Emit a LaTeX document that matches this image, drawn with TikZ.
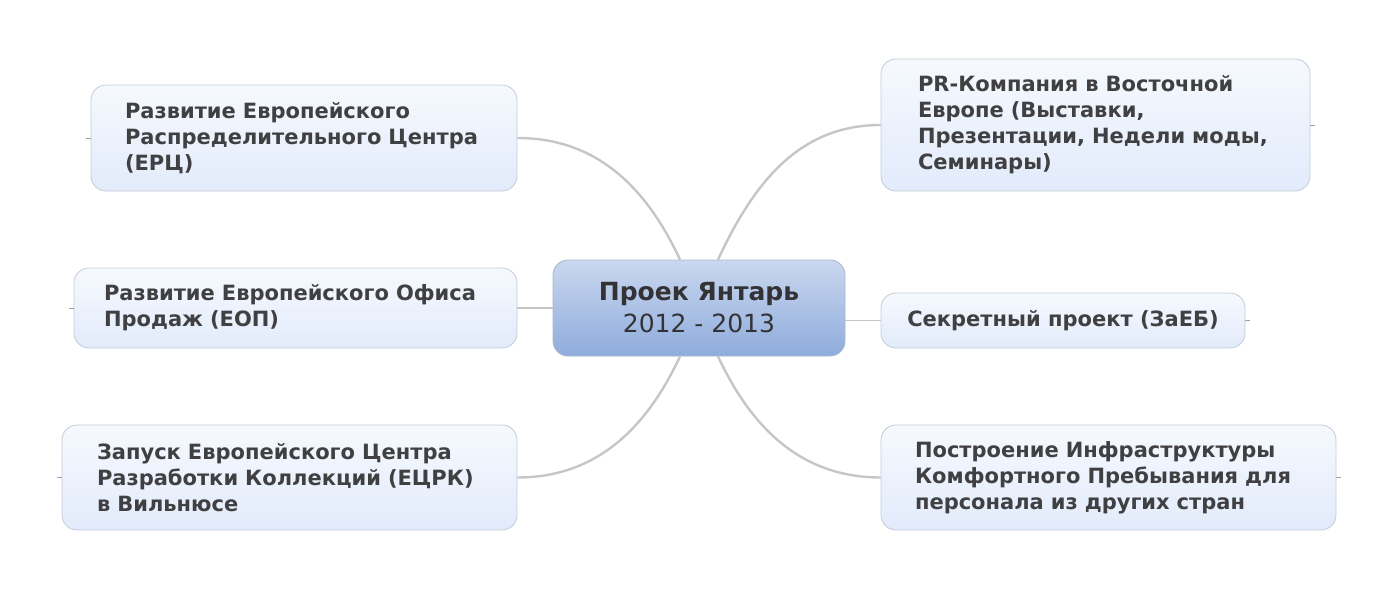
\documentclass[tikz,border=0pt]{standalone}
\usepackage{fontspec}
\setmainfont{DejaVu Sans}
\definecolor{topictop}{RGB}{246,249,254}
\definecolor{topicbot}{RGB}{226,235,251}
\definecolor{topicline}{RGB}{196,203,214}
\definecolor{hubtop}{RGB}{202,215,239}
\definecolor{hubbot}{RGB}{143,172,220}
\definecolor{hubline}{RGB}{168,183,208}
\definecolor{textgray}{RGB}{64,64,66}
\definecolor{branchgray}{RGB}{198,198,198}
\tikzset{
  topic/.style={draw=topicline, rounded corners=7.5pt, top color=topictop,
    bottom color=topicbot, align=left, inner xsep=17pt, text=textgray,
    font=\bfseries\fontsize{10.5}{13}\selectfont},
  hub/.style={draw=hubline, rounded corners=7.5pt, top color=hubtop,
    bottom color=hubbot, align=center, text=textgray!80!black,
    minimum width=146pt, minimum height=48pt,
    font=\fontsize{12.5}{16}\selectfont},
  branch/.style={draw=branchgray, line width=1.2pt},
  link/.style={draw=branchgray, line width=0.7pt},
  stub/.style={draw=branchgray!80!black, line width=0.5pt}
}
\begin{document}
\begin{tikzpicture}[x=0.5pt,y=-0.5pt]
  \useasboundingbox (0,0) rectangle (1398,589);
  % central topic
  \node[hub] (hub) at (699,308) {\textbf{Проек Янтарь}\\2012 - 2013};
  % left side
  \node[topic, text width=179pt, minimum height=53pt] (erc) at (304,138)
    {Развитие Европейского\\Распределительного Центра\\(ЕРЦ)};
  \node[topic, inner xsep=15pt, text width=191.5pt, minimum height=40pt] (eop) at (295.5,308)
    {Развитие Европейского Офиса\\Продаж (ЕОП)};
  \node[topic, inner xsep=17.5pt, text width=192.5pt, minimum height=52.5pt] (ecrk) at (289.5,477.5)
    {Запуск Европейского Центра\\Разработки Коллекций (ЕЦРК)\\в Вильнюсе};
  % right side
  \node[topic, inner xsep=18.5pt, text width=177.5pt, minimum height=66pt] (pr) at (1095.5,125)
    {PR-Компания в Восточной\\Европе (Выставки,\\Презентации, Недели моды,\\Семинары)};
  \node[topic, inner xsep=8pt, align=center, minimum width=182pt, minimum height=27.5pt] (zaeb) at (1063,320.5)
    {Секретный проект (ЗаЕБ)};
  \node[topic, text width=193.5pt, minimum height=52.5pt] (infra) at (1108.5,477.5)
    {Построение Инфраструктуры\\Комфортного Пребывания для\\персонала из других стран};
  % connectors
  \draw[branch] ([xshift=-9.5pt]hub.north) to[out=115,in=0] (erc.east);
  \draw[branch] ([xshift=9.5pt]hub.north) to[out=65,in=180] (pr.west);
  \draw[link] (hub.west) -- (eop.east);
  \draw[link] (zaeb.west -| hub.east) -- (zaeb.west);
  \draw[branch] ([xshift=-9.5pt]hub.south) to[out=-115,in=0] (ecrk.east);
  \draw[branch] ([xshift=9.5pt]hub.south) to[out=-65,in=180] (infra.west);
  % collapse stubs
  \draw[stub] (erc.west) -- ++(-5,0);
  \draw[stub] (eop.west) -- ++(-5,0);
  \draw[stub] (ecrk.west) -- ++(-5,0);
  \draw[stub] (pr.east) -- ++(5,0);
  \draw[stub] (zaeb.east) -- ++(5,0);
  \draw[stub] (infra.east) -- ++(5,0);
\end{tikzpicture}
\end{document}
